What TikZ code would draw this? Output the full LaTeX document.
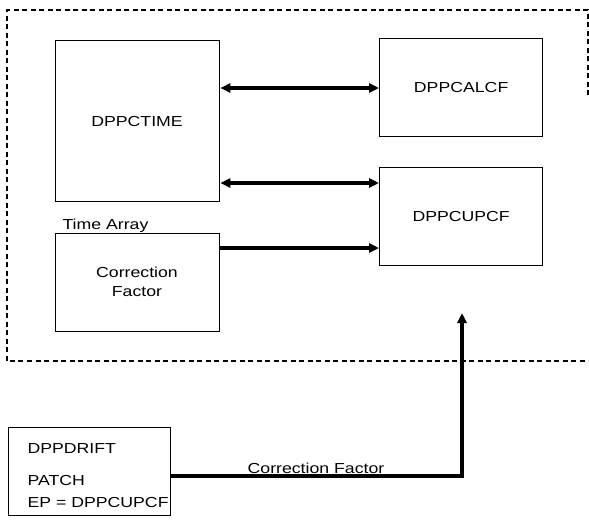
\documentclass[tikz,border=0pt]{standalone}
\usepackage{fontspec}
\setmainfont{Liberation Sans}[FakeStretch=1.22]
\usetikzlibrary{arrows.meta}
\begin{document}
\begin{tikzpicture}[x=1pt,y=-1pt,
  box/.style={draw,line width=1.3pt,minimum width=164pt,anchor=north west,inner sep=0pt},
  lbl/.style={font=\fontsize{14.5}{19}\selectfont},
  flow/.style={line width=3.4pt,-{Triangle[length=10pt,width=9pt]}},
  flow2/.style={line width=3.4pt,{Triangle[length=10pt,width=9pt]}-{Triangle[length=10pt,width=9pt]}},
  bound/.style={line width=1.2pt,dash pattern=on 5pt off 3.5pt}]
\useasboundingbox (0,0) rectangle (589,525);
% dashed boundary
\draw[bound] (588,95) -- (588,10) -- (7,10) -- (7,361) -- (588,361);
% boxes
\node[box,minimum height=161pt] (time) at (55,40) {};
\node[lbl] at (137,122) {DPPCTIME};
\node[box,minimum height=98pt] (corr) at (55,233) {};
\node[lbl,align=center] at (137,282) {Correction\\Factor};
\node[lbl,anchor=base west] (ta) at (59,229) {Time Array};
\node[box,minimum width=163pt,minimum height=98pt] (calc) at (379,38) {};
\node[lbl] at (calc.center) {DPPCALCF};
\node[box,minimum width=163pt,minimum height=98pt] (upcf) at (379,167) {};
\node[lbl] at (upcf.center) {DPPCUPCF};
\node[box,minimum width=162pt,minimum height=88pt] (drift) at (8,427) {};
\node[lbl,anchor=base west] at (24,453) {DPPDRIFT};
\node[lbl,anchor=base west] at (24,485) {PATCH};
\node[lbl,anchor=base west] at (24,507) {EP = DPPCUPCF};
% connectors
\draw[flow2] (time.east |- 0,88) -- (calc.west |- 0,88);
\draw[flow2] (time.east |- 0,183) -- (upcf.west |- 0,183);
\draw[flow] (corr.east |- 0,248) -- (upcf.west |- 0,248);
\coordinate (tip) at (462,313);
\draw[flow] (drift.east |- 0,476) -- (462,476) -- (tip);
\node[lbl,anchor=base] at (316,473) {Correction Factor};
\end{tikzpicture}
\end{document}
